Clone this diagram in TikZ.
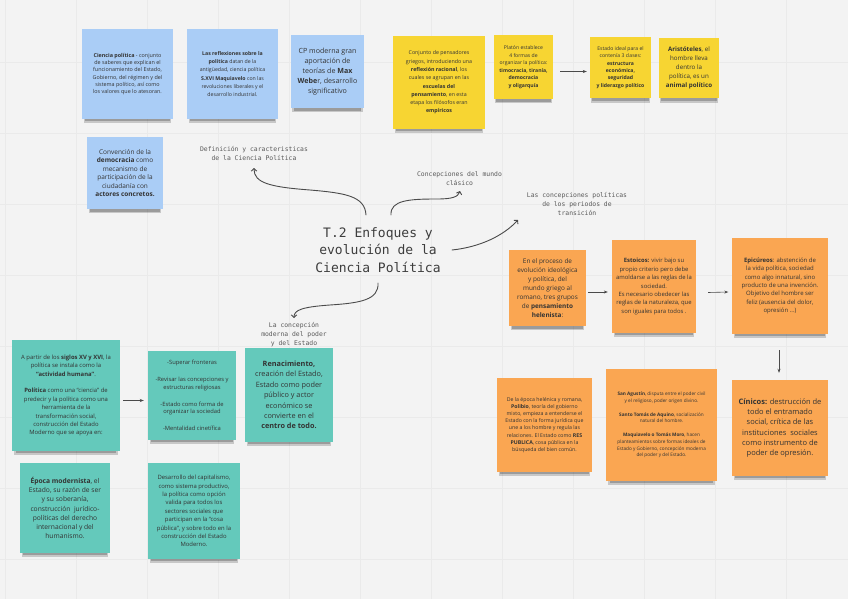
\documentclass[tikz,border=0pt]{standalone}
\usepackage{fontspec}
\setmainfont{Open Sans}
\newfontfamily\monof{DejaVu Sans Mono}
\usetikzlibrary{shadows,arrows.meta}
\definecolor{bgc}{HTML}{F3F3F3}
\definecolor{gridc}{HTML}{EAEAEA}
\definecolor{bluenote}{RGB}{170,205,246}
\definecolor{yellownote}{RGB}{247,213,50}
\definecolor{orangenote}{RGB}{250,166,82}
\definecolor{tealnote}{RGB}{100,201,187}
\definecolor{txt}{HTML}{333333}
\definecolor{labc}{HTML}{595959}
\definecolor{titlec}{HTML}{3D3D3D}
\definecolor{arrc}{HTML}{4A4A4A}
\begin{document}
\begin{tikzpicture}[x=1pt,y=-1pt,
  note/.style={draw=none, inner sep=0pt, align=center, text=txt,
    drop shadow={shadow scale=0.96, shadow xshift=0pt, shadow yshift=-6pt, opacity=0.18, fill=black},
    drop shadow={shadow scale=0.93, shadow xshift=0pt, shadow yshift=-6pt, opacity=0.22, fill=black}},
  fs/.style 2 args={font=\fontsize{#1}{#2}\selectfont},
  lab/.style={font=\monof\fontsize{6.4}{9}\selectfont, text=labc, align=center, inner sep=1pt},
  sarrow/.style={draw=arrc, line width=0.6pt, -{Stealth[length=4pt,width=3pt]}},
  carrow/.style={draw=arrc, line width=0.9pt, line cap=round, -{Straight Barb[length=2.5pt,width=5.5pt]}}
]
\useasboundingbox (0,0) rectangle (848,599);
\fill[bgc] (0,0) rectangle (848,599);
\foreach \i in {0,...,12} \draw[gridc, line width=0.4pt] (5+71*\i,0) -- (5+71*\i,599);
\foreach \j in {1,...,8} \draw[gridc, line width=0.4pt] (0,-9+71*\j) -- (848,-9+71*\j);

% Blue notes
\node[note, fill=bluenote, minimum width=91pt, minimum height=90pt, fs={5.4}{7.3}] (n1) at (127.5,74)
 {\textbf{Ciencia política} - conjunto\\de saberes que explican el\\funcionamiento del Estado,\\Gobierno, del régimen y del\\sistema político, así como\\los valores que lo atesoran.};
\node[note, fill=bluenote, minimum width=91pt, minimum height=90pt, fs={5.2}{8.2}] (n2) at (232.5,74)
 {\textbf{Las reflexiones sobre la}\\\textbf{política} datan de la\\antigüedad, ciencia política\\\textbf{S.XVI Maquiavelo} con las\\revoluciones liberales y el\\desarrollo industrial.};
\node[note, fill=bluenote, minimum width=73pt, minimum height=73pt, fs={7.1}{9.9}] (n3) at (327.5,71.5)
 {CP moderna gran\\aportación de\\teorías de \textbf{Max}\\\textbf{Webe}r, desarrollo\\significativo};
\node[note, fill=bluenote, minimum width=76pt, minimum height=72pt, fs={6.5}{8.5}] (n4) at (125,173)
 {Convención de la\\\textbf{democracia} como\\mecanismo de\\participación de la\\ciudadanía con\\\textbf{actores concretos.}};

% Yellow notes
\node[note, fill=yellownote, minimum width=92pt, minimum height=93pt, fs={5.3}{8.3}] (n5) at (439,82.5)
 {Conjunto de pensadores\\griegos, introduciendo una\\\textbf{reflexión racional}, los\\cuales se agrupan en las\\\textbf{escuelas del}\\\textbf{pensamiento}, en esta\\etapa los filósofos eran\\\textbf{empíricos}};
\node[note, fill=yellownote, minimum width=59pt, minimum height=64pt, fs={5.1}{7.5}] (n6) at (523.5,67)
 {Platón establece\\4 formas de\\organizar la política:\\\textbf{timocracia, tiranía,}\\\textbf{democracia}\\\textbf{y oligarquía}};
\node[note, fill=yellownote, minimum width=61pt, minimum height=61pt, fs={5.1}{7.4}] (n7) at (620.5,67.5)
 {Estado ideal para el\\contenía 3 clases:\\\textbf{estructura}\\\textbf{económica,}\\\textbf{seguridad}\\\textbf{y liderazgo político}};
\node[note, fill=yellownote, minimum width=60pt, minimum height=60pt, fs={6.2}{9}] (n8) at (689,68)
 {\textbf{Aristóteles}, el\\hombre lleva\\dentro la\\política, es un\\\textbf{animal político}};

% Orange notes
\node[note, fill=orangenote, minimum width=77pt, minimum height=76pt, fs={6.4}{8.9}] (n9) at (547.5,288)
 {En el proceso de\\evolución ideológica\\y política, del\\mundo griego al\\romano, tres grupos\\de \textbf{pensamiento}\\\textbf{helenista}:};
\node[note, fill=orangenote, minimum width=84pt, minimum height=93pt, fs={5.9}{8.4}] (n10) at (654,286.5)
 {\textbf{Estoicos:} vivir bajo su\\propio criterio pero debe\\amoldarse a las reglas de la\\sociedad.\\Es necesario obedecer las\\reglas de la naturaleza, que\\son iguales para todos .};
\node[note, fill=orangenote, minimum width=96pt, minimum height=96pt, fs={6}{8.4}] (n11) at (780,286)
 {\textbf{Epicúreos}: abstención de\\la vida política, sociedad\\como algo innatural, sino\\producto de una invención.\\Objetivo del hombre ser\\feliz (ausencia del dolor,\\opresión ...)};
\node[note, fill=orangenote, minimum width=95pt, minimum height=94pt, fs={5.2}{7.2}] (n12) at (544.5,425)
 {De la época helénica y romana,\\\textbf{Polibio}, teoría del gobierno\\mixto, empieza a entenderse el\\Estado con la forma jurídica que\\une a los hombre y regula las\\relaciones. El Estado como \textbf{RES}\\\textbf{PUBLICA}, cosa pública en la\\búsqueda del bien común.};
\node[note, fill=orangenote, minimum width=111pt, minimum height=112pt, fs={4.7}{6.8}] (n13) at (661.5,425)
 {\textbf{San Agustín}, disputa entre el poder civil\\y el religioso, poder origen divino.\\[6.8pt]\textbf{Santo Tomás de Aquino}, socialización\\natural del hombre.\\[6.8pt]\textbf{Maquiavelo o Tomás Moro}, hacen\\planteamientos sobre formas ideales de\\Estado y Gobierno, concepción moderna\\del poder y del Estado.};
\node[note, fill=orangenote, minimum width=96pt, minimum height=96pt, fs={7.5}{10.3}] (n14) at (780,428)
 {\textbf{Cínicos:} destrucción de\\todo el entramado\\social, crítica de las\\instituciones\ \ sociales\\como instrumento de\\poder de opresión.};

% Teal notes
\node[note, fill=tealnote, minimum width=108pt, minimum height=111pt, fs={5.9}{8.4}] (n15) at (66,395.5)
 {A partir de los \textbf{siglos XV y XVI}, la\\política se instala como la\\\textbf{“actividad humana”}.\\[8.4pt]\textbf{Política} como una “ciencia” de\\predecir y la política como una\\herramienta de la\\transformación social,\\construcción del Estado\\Moderno que se apoya en:};
\node[note, fill=tealnote, minimum width=88pt, minimum height=89pt, fs={5.8}{7.2}] (n16) at (192,395.5)
 {-Superar fronteras\\[10pt]-Revisar las concepciones y\\estructuras religiosas\\[10pt]-Estado como forma de\\organizar la sociedad\\[10pt]-Mentalidad cinetífica};
\node[note, fill=tealnote, minimum width=88pt, minimum height=94pt, fs={7.3}{10.4}] (n17) at (289,395)
 {\textbf{Renacimiento,}\\creación del Estado,\\Estado como poder\\público y actor\\económico se\\convierte en el\\\textbf{centro de todo.}};
\node[note, fill=tealnote, minimum width=90pt, minimum height=90pt, fs={6.7}{9.3}] (n18) at (65,508)
 {\textbf{Época modernista}, el\\Estado, su razón de ser\\y su soberanía,\\construcción\ \ jurídico-\\políticas del derecho\\internacional y del\\humanismo.};
\node[note, fill=tealnote, minimum width=92pt, minimum height=96pt, fs={5.9}{8.4}] (n19) at (194,511)
 {Desarrollo del capitalismo,\\como sistema productivo,\\la política como opción\\valida para todos los\\sectores sociales que\\participan en la “cosa\\pública”, y sobre todo en la\\construcción del Estado\\Moderno.};

% Title and labels
\node[font=\monof\fontsize{13}{17.5}\selectfont, text=titlec, align=center] (title) at (378,250)
 {T.2 Enfoques y\\evolución de la\\Ciencia Política};
\node[lab] (lab1) at (254,153.5) {Definición y caracteristicas\\de la Ciencia Política};
\node[lab] (lab2) at (459.5,178.5) {Concepciones del mundo\\clásico};
\node[lab] (lab3) at (577,204) {Las concepciones políticas\\de los periodos de\\transición};
\node[lab] (lab4) at (294,334.5) {La concepción\\moderna del poder\\y del Estado};

% straight arrows
\draw[sarrow] ([xshift=7pt,yshift=-4.5pt]n6.east) -- ([xshift=-3pt,yshift=-4pt]n7.west);
\draw[sarrow] ([xshift=2pt,yshift=-4pt]n9.east) -- ([xshift=-4pt,yshift=-5.5pt]n10.west);
\draw[sarrow] ([xshift=12pt,yshift=-6pt]n10.east) -- ([xshift=-3.5pt,yshift=-6pt]n11.west);
\draw[sarrow] ([xshift=3pt,yshift=-5pt]n15.east) -- ([xshift=-4pt,yshift=-5pt]n16.west);
\draw[sarrow] ([xshift=-1pt,yshift=-16pt]n11.south) -- ([xshift=-1pt,yshift=7pt]n14.north);

% curved arrows from the title
\coordinate (sA) at (366,215); \coordinate (eA) at (254,168);
\coordinate (sB) at (391,215); \coordinate (eB) at (460,191);
\coordinate (sC) at (452,250); \coordinate (eC) at (518,220);
\coordinate (sD) at (378,283); \coordinate (eD) at (294,318);
\draw[carrow] (sA) .. controls (365,196) and (345,193) .. (310,190) .. controls (270,187) and (254,183) .. (eA);
\draw[carrow] (sB) .. controls (390,200) and (410,199) .. (437,199) .. controls (452,199) and (458,197) .. (eB);
\draw[carrow] (sC) .. controls (480,247) and (503,236) .. (eC);
\draw[carrow] (sD) .. controls (379,300) and (360,303) .. (330,305) .. controls (302,307) and (294,310) .. (eD);
\end{tikzpicture}
\end{document}
